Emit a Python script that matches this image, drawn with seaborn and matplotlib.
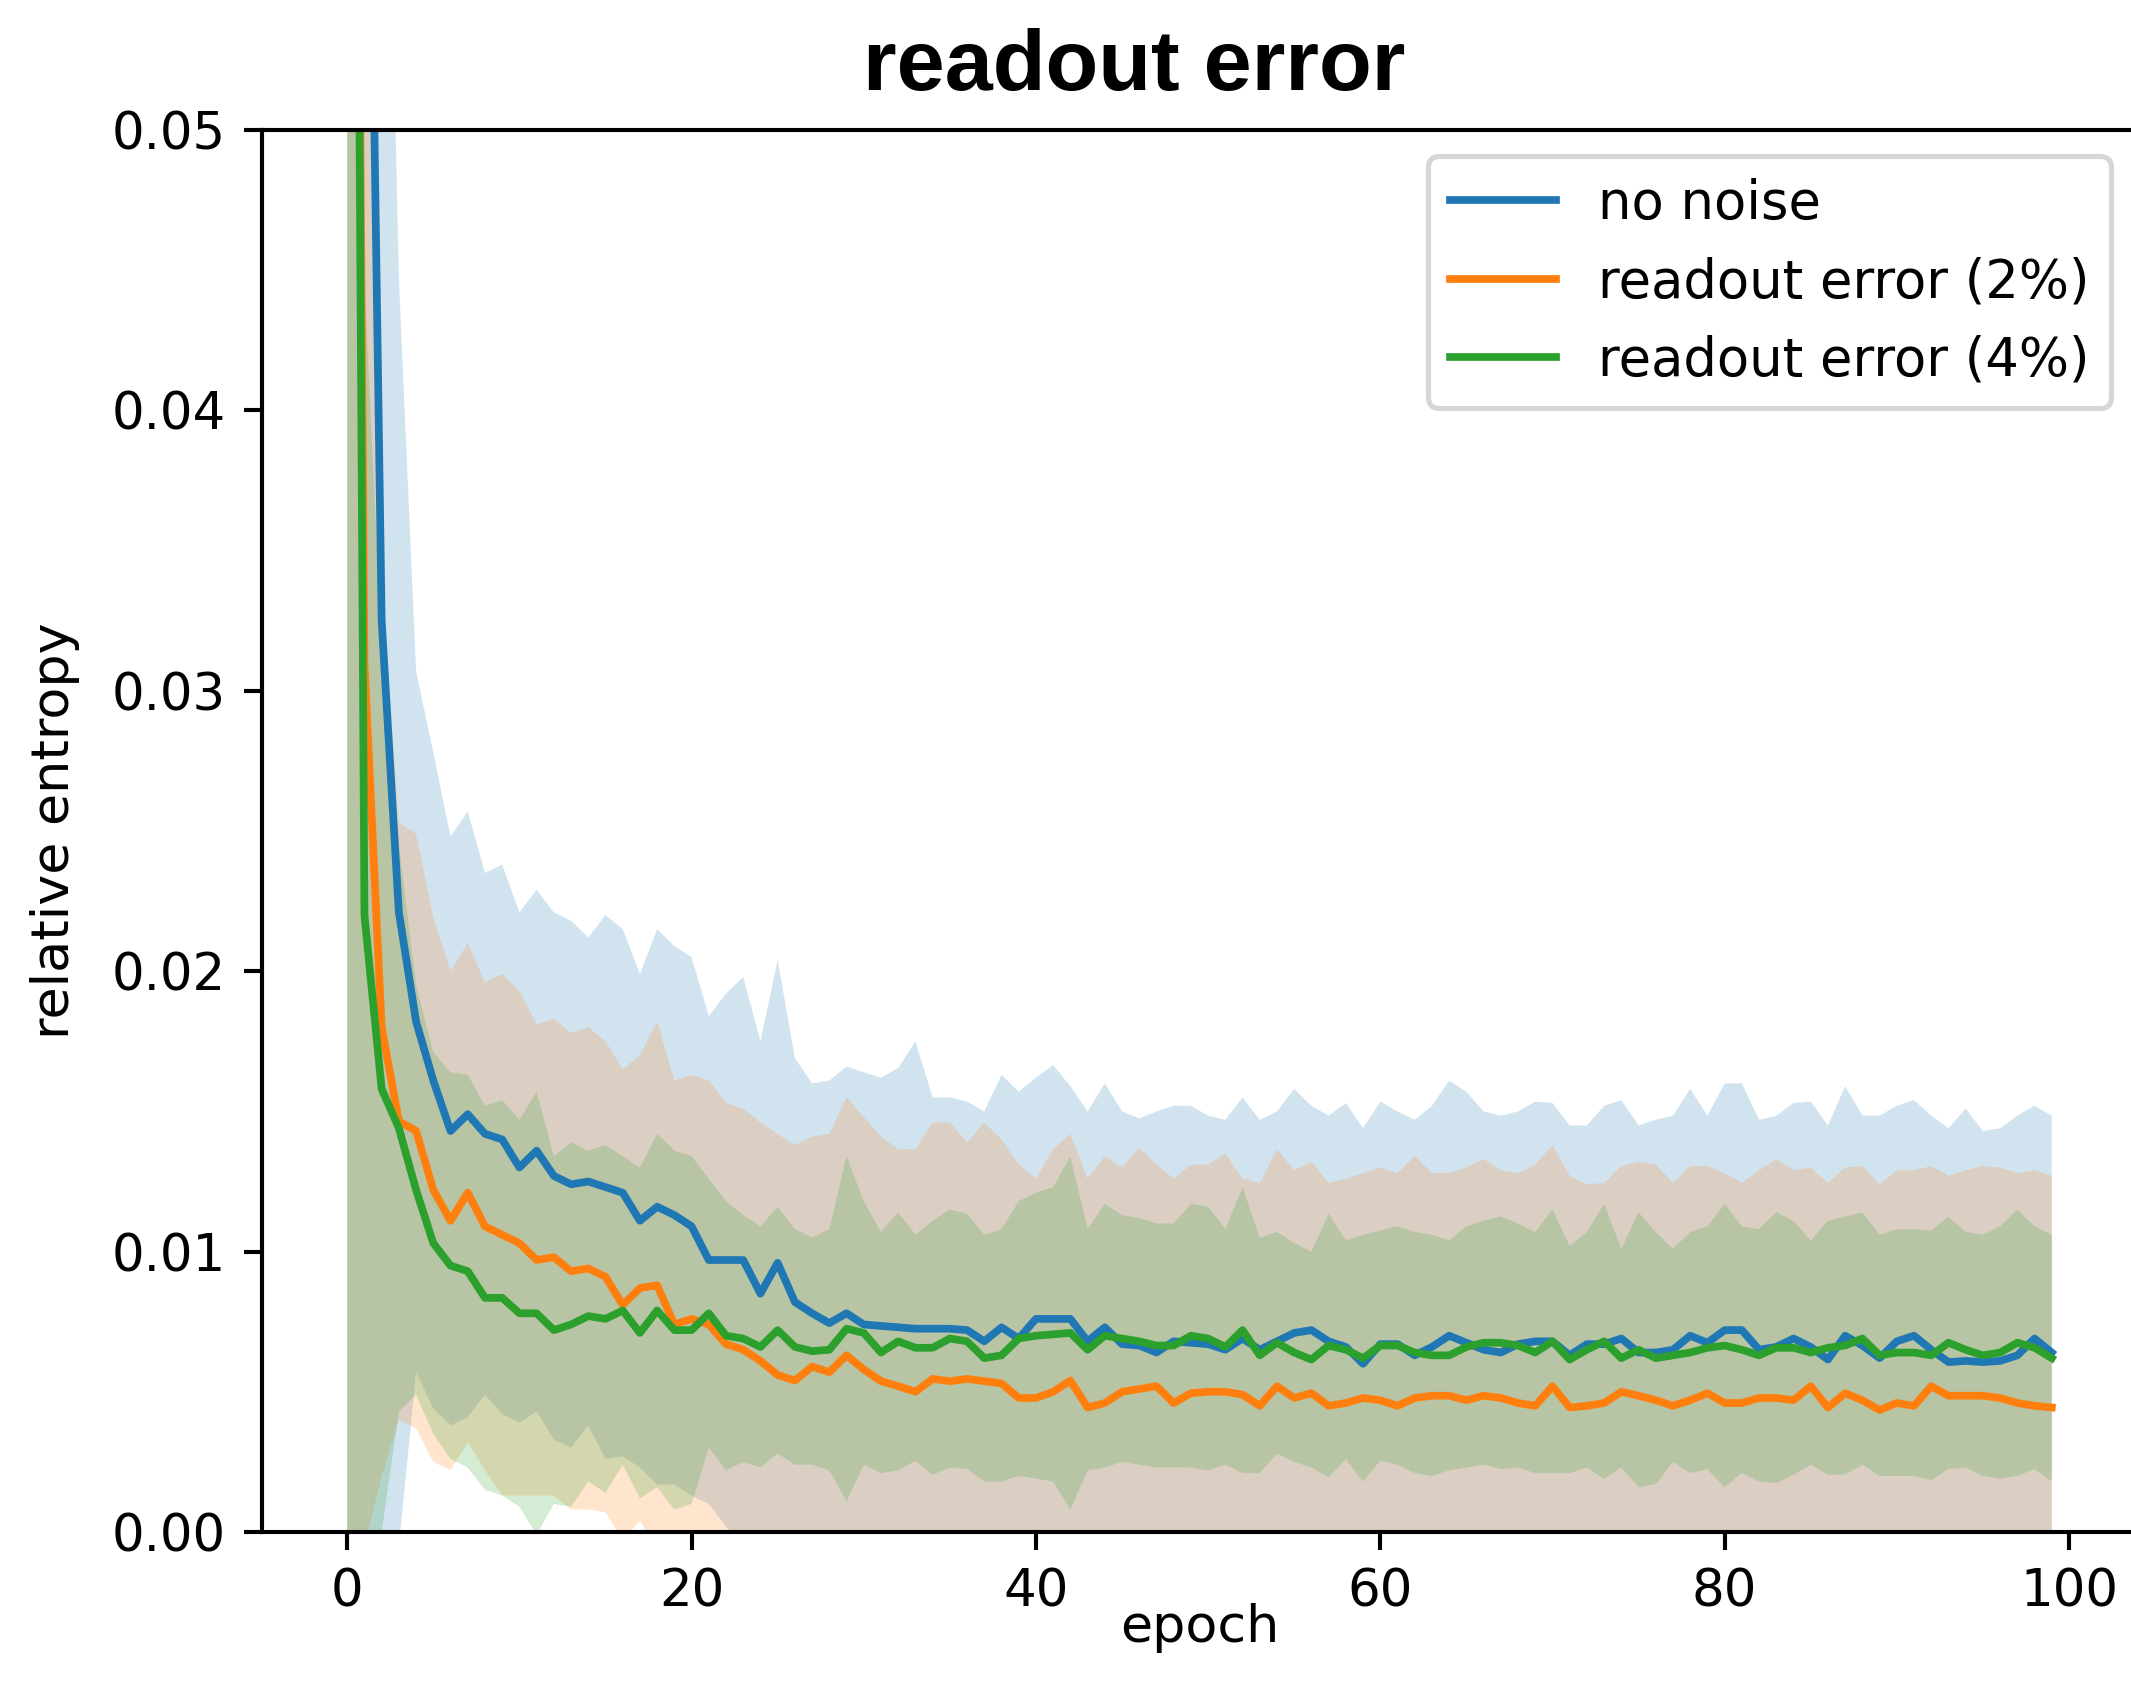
import numpy as np
import matplotlib
matplotlib.use("Agg")
import matplotlib.pyplot as plt
import seaborn as sns

# Training curves: mean relative entropy per epoch and its standard deviation
epochs = np.arange(100)
series_names = ["no noise", "readout error (2%)", "readout error (4%)"]

no_noise_mean = [
    0.25, 0.074, 0.0325, 0.0221, 0.0182, 0.0161, 0.0143, 0.0149, 0.0142, 0.0140,
    0.0130, 0.0136, 0.0127, 0.0124, 0.0125, 0.0123, 0.0121, 0.0111, 0.0116, 0.0113,
    0.0109, 0.0097, 0.0097, 0.0097, 0.0085, 0.0096, 0.0082, 0.0078, 0.00745, 0.0078,
    0.0074, 0.00735, 0.0073, 0.00725, 0.00725, 0.00725, 0.0072, 0.0068, 0.0073, 0.0069,
    0.0076, 0.0076, 0.0076, 0.0068, 0.0073, 0.0067, 0.00665, 0.0064, 0.0068, 0.00675,
    0.0067, 0.0065, 0.0069, 0.0065, 0.0068, 0.0071, 0.0072, 0.0068, 0.0066, 0.0060,
    0.0067, 0.0067, 0.0063, 0.0066, 0.0070, 0.00675, 0.0065, 0.0064, 0.0067, 0.0068,
    0.0068, 0.0063, 0.0067, 0.0067, 0.0069, 0.0064, 0.0064, 0.0065, 0.0070, 0.00675,
    0.0072, 0.0072, 0.0065, 0.0066, 0.0069, 0.0066, 0.00615, 0.0070, 0.00665, 0.0062,
    0.0068, 0.0070, 0.0065, 0.00606, 0.0061, 0.00606, 0.0061, 0.0063, 0.0069, 0.0064,
]
no_noise_std = [
    0.26, 0.095, 0.0401, 0.0226, 0.0125, 0.0117, 0.0105, 0.0108, 0.0093, 0.0098,
    0.0091, 0.0093, 0.0094, 0.0094, 0.0087, 0.0097, 0.0094, 0.0088, 0.0099, 0.0096,
    0.0096, 0.0087, 0.0095, 0.0101, 0.0090, 0.0108, 0.0087, 0.0082, 0.00865, 0.0088,
    0.0090, 0.00885, 0.00925, 0.01025, 0.00825, 0.00825, 0.00815, 0.0082, 0.0090, 0.0088,
    0.0086, 0.00905, 0.0083, 0.0082, 0.0087, 0.0083, 0.0081, 0.0086, 0.0084, 0.00845,
    0.00815, 0.0082, 0.0086, 0.0082, 0.0082, 0.0087, 0.0080, 0.00805, 0.0087, 0.0084,
    0.00865, 0.0083, 0.0084, 0.0086, 0.0091, 0.00895, 0.0085, 0.00845, 0.0083, 0.00855,
    0.0085, 0.0082, 0.0078, 0.0085, 0.0085, 0.0081, 0.0083, 0.00835, 0.0088, 0.0081,
    0.0088, 0.0088, 0.0082, 0.00825, 0.0084, 0.00875, 0.00835, 0.0089, 0.0082, 0.00865,
    0.0084, 0.0084, 0.00835, 0.00834, 0.0090, 0.00824, 0.0083, 0.00855, 0.0083, 0.00845,
]

readout2_mean = [
    0.11, 0.031, 0.0180, 0.01465, 0.0143, 0.0122, 0.0111, 0.0121, 0.0109, 0.0106,
    0.0103, 0.0097, 0.0098, 0.0093, 0.0094, 0.0091, 0.0081, 0.0087, 0.0088, 0.0074,
    0.0076, 0.0074, 0.0067, 0.0065, 0.0061, 0.0056, 0.0054, 0.0059, 0.0057, 0.0063,
    0.0058, 0.00538, 0.0052, 0.0050, 0.00546, 0.00538, 0.00546, 0.00538, 0.0053, 0.00478,
    0.00478, 0.0050, 0.0054, 0.00444, 0.0046, 0.0050, 0.0051, 0.0052, 0.0046, 0.00495,
    0.0050, 0.0050, 0.0049, 0.0045, 0.0052, 0.00478, 0.00495, 0.0045, 0.0046, 0.00478,
    0.0047, 0.0045, 0.00478, 0.00486, 0.00486, 0.0047, 0.00486, 0.00478, 0.0046, 0.0045,
    0.0052, 0.00444, 0.0045, 0.0046, 0.0050, 0.00486, 0.0047, 0.0045, 0.0047, 0.00495,
    0.0046, 0.0046, 0.00478, 0.00478, 0.0047, 0.0052, 0.00444, 0.00495, 0.0047, 0.00435,
    0.0046, 0.0045, 0.0052, 0.00486, 0.00486, 0.00486, 0.00478, 0.0046, 0.0045, 0.00444,
]
readout2_std = [
    0.115, 0.0315, 0.0160, 0.01065, 0.0106, 0.0097, 0.0089, 0.0089, 0.0087, 0.0093,
    0.0090, 0.0084, 0.0085, 0.0085, 0.0086, 0.0084, 0.0084, 0.0083, 0.0094, 0.0087,
    0.0087, 0.0087, 0.0086, 0.0086, 0.0085, 0.0086, 0.0084, 0.0082, 0.0085, 0.0092,
    0.0090, 0.00872, 0.00845, 0.00865, 0.00914, 0.00922, 0.00844, 0.00922, 0.0087, 0.00832,
    0.00782, 0.00865, 0.0088, 0.00816, 0.0088, 0.0080, 0.0086, 0.0079, 0.0080, 0.00815,
    0.0081, 0.0085, 0.0077, 0.00795, 0.00845, 0.00812, 0.00825, 0.00795, 0.0080, 0.00802,
    0.0083, 0.0083, 0.00862, 0.00794, 0.00794, 0.0083, 0.00844, 0.00812, 0.0082, 0.0086,
    0.0086, 0.00826, 0.0079, 0.00785, 0.00805, 0.00834, 0.0084, 0.00795, 0.00835, 0.0081,
    0.0082, 0.00785, 0.00812, 0.00852, 0.0082, 0.0078, 0.00801, 0.00805, 0.00835, 0.00805,
    0.0083, 0.0084, 0.00785, 0.00784, 0.00804, 0.00819, 0.00822, 0.0082, 0.0084, 0.00826,
]

readout4_mean = [
    0.12, 0.022, 0.0158, 0.0144, 0.0122, 0.0103, 0.0095, 0.0093, 0.00835, 0.00835,
    0.0078, 0.0078, 0.0072, 0.0074, 0.0077, 0.0076, 0.0079, 0.0071, 0.0079, 0.0072,
    0.0072, 0.0078, 0.0070, 0.0069, 0.0066, 0.0072, 0.0066, 0.00645, 0.0065, 0.00725,
    0.0071, 0.0064, 0.0068, 0.00657, 0.00657, 0.0069, 0.0068, 0.0062, 0.0063, 0.0069,
    0.0070, 0.00705, 0.0071, 0.0065, 0.0070, 0.0069, 0.0068, 0.00665, 0.00665, 0.0070,
    0.0069, 0.0066, 0.0072, 0.0063, 0.00675, 0.0064, 0.00615, 0.00665, 0.0065, 0.0062,
    0.00665, 0.00665, 0.0064, 0.0063, 0.0063, 0.0066, 0.00675, 0.00675, 0.00665, 0.0064,
    0.0068, 0.00615, 0.0065, 0.0068, 0.0062, 0.0065, 0.0062, 0.0063, 0.0064, 0.00657,
    0.00665, 0.0065, 0.0063, 0.00657, 0.00657, 0.0064, 0.00657, 0.00665, 0.0069, 0.0063,
    0.0064, 0.0064, 0.0063, 0.00675, 0.0065, 0.0063, 0.0064, 0.00675, 0.00657, 0.0062,
]
readout4_std = [
    0.125, 0.0225, 0.0158, 0.0101, 0.0073, 0.0068, 0.0069, 0.0070, 0.00685, 0.00705,
    0.0069, 0.0079, 0.0062, 0.0065, 0.0059, 0.0062, 0.0055, 0.0059, 0.0063, 0.0064,
    0.0062, 0.0048, 0.0048, 0.0044, 0.0043, 0.0044, 0.0042, 0.00405, 0.0043, 0.00615,
    0.0047, 0.0043, 0.0046, 0.00403, 0.00453, 0.0046, 0.00455, 0.0044, 0.0045, 0.0049,
    0.0051, 0.00525, 0.0063, 0.0043, 0.0047, 0.0044, 0.0044, 0.00435, 0.00435, 0.0047,
    0.0047, 0.0042, 0.0051, 0.0042, 0.00395, 0.0039, 0.00385, 0.0047, 0.0039, 0.0044,
    0.0041, 0.00425, 0.0043, 0.0043, 0.0041, 0.0043, 0.00435, 0.0045, 0.00435, 0.0043,
    0.0047, 0.00405, 0.0042, 0.0049, 0.0039, 0.0049, 0.0045, 0.0038, 0.0043, 0.00433,
    0.00505, 0.0044, 0.0045, 0.00483, 0.00453, 0.0040, 0.00453, 0.0046, 0.0045, 0.0043,
    0.0044, 0.0044, 0.00445, 0.0045, 0.0042, 0.0043, 0.0045, 0.00475, 0.00433, 0.0044,
]

means = [no_noise_mean, readout2_mean, readout4_mean]
stds = [no_noise_std, readout2_std, readout4_std]
colors = sns.color_palette("tab10", 3)

DPI = 370
W, H = 2131, 1694
fig = plt.figure(figsize=(W / DPI, H / DPI), dpi=DPI)
ax = fig.add_axes([262 / W, 162 / H, (2137 - 262) / W, (1532 - 130) / H])

# one-sigma bands first, then the mean curves on top
for m, s, c in zip(means, stds, colors):
    m = np.asarray(m)
    s = np.asarray(s)
    ax.fill_between(epochs, m - s, m + s, color=c, alpha=0.2, linewidth=0)

for name, m, c in zip(series_names, means, colors):
    sns.lineplot(x=epochs, y=np.asarray(m), color=c, label=name, ax=ax,
                 linewidth=1.5, legend=False)

ax.set_ylim(0, 0.05)
ax.set_xticks([0, 20, 40, 60, 80, 100])
ax.set_xlabel("epoch", fontsize=10.2, labelpad=-3)
ax.set_ylabel("relative entropy", fontsize=10.2, labelpad=6.1)
ax.legend(loc="upper right", fontsize=10.3)

fig.text(1134.6 / W, 1 - 90 / H, "readout error", ha="center", va="baseline",
         fontsize=16.8, fontweight="bold", family=["Liberation Sans", "DejaVu Sans"])

fig.savefig("out.png", dpi=DPI)
